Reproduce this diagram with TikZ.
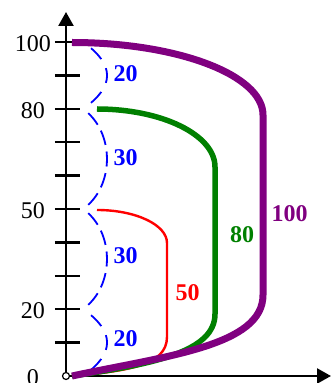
\documentclass[tikz,border=0pt]{standalone}
\usepackage{fontspec}
\setmainfont{Liberation Serif}
\usetikzlibrary{arrows.meta, decorations}
\definecolor{hundredc}{RGB}{128,0,128}
\definecolor{eightyc}{RGB}{0,128,0}
\tikzset{
  axis/.style = {line width=2.4pt, -{Triangle[length=14pt,width=15pt]}},
  tickmark/.style = {line width=2.4pt},
  ylab/.style = {font=\fontsize{24}{24}\selectfont, inner sep=0pt},
  gap/.style = {blue, line width=1.8pt, dash pattern=on 15pt off 6pt, dash expand off},
  gaplab/.style = {blue, font=\fontsize{24}{24}\selectfont\bfseries, inner sep=0pt},
  curvelab/.style = {font=\fontsize{24}{24}\selectfont\bfseries, inner sep=0pt}
}

\begin{document}
\begin{tikzpicture}[x=1pt, y=1pt]
\useasboundingbox (-66,-7) rectangle (265,376);

% Axes
\coordinate (O) at (0,0);
\draw[axis] (O) -- (0,364);
\draw[axis] (O) -- (265,0);

% Ticks every 10
\foreach \v in {1,...,10}
  \draw[tickmark] (-11,33.4*\v) -- (14,33.4*\v);

% Axis labels
\foreach \v in {0,20,50,80,100}
  \node[ylab] (l\v) at (-33,3.34*\v-1.5) {\v};

% Origin marker
\draw[line width=1.2pt, fill=white] (O) circle (3.5);

% ----- Gaps between levels -----
\coordinate (c100) at (17,334);
\coordinate (c80) at (17,267);
\coordinate (c50) at (17,167);
\coordinate (c20) at (17,67);
\coordinate (c0) at (17,0);

\draw[gap] (c100) to[out=-35,in=35,looseness=1.5] (c80);
\draw[gap] (c80) to[out=-35,in=35] (c50);
\draw[gap] (c50) to[out=-35,in=35] (c20);
\draw[gap] (c20) to[out=-35,in=35,looseness=1.5] (c0);

\node[gaplab] (g1) at (59.7,302) {20};
\node[gaplab] (g2) at (59.7,218) {30};
\node[gaplab] (g3) at (59.7,120) {30};
\node[gaplab] (g4) at (59.7,37.5) {20};

% ----- Curves -----
% 50
\draw[red, line width=2.4pt] (31,166) arc[start angle=90, end angle=0, x radius=70, y radius=33]
  -- (101,39) .. controls (101,10) and (60,5) .. (6,0);
% 80
\draw[eightyc, line width=5.5pt] (31,267) arc[start angle=90, end angle=0, x radius=118, y radius=58]
  -- (149,62) .. controls (149,25) and (90,12) .. (6,0);
% 100
\draw[hundredc, line width=7pt] (6,333.5) arc[start angle=90, end angle=0, x radius=191, y radius=72.5]
  -- (197,81) .. controls (197,30) and (100,20) .. (6,0);

% Curve labels
\node[curvelab, red] (n50) at (121.5,83.5) {50};
\node[curvelab, eightyc] (n80) at (176,141) {80};
\node[curvelab, hundredc] (n100) at (223.5,162) {100};

\end{tikzpicture}
\end{document}
